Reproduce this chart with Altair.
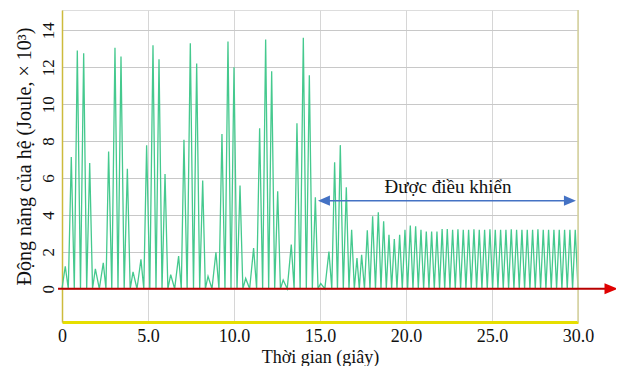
import altair as alt
import pandas as pd

# ---- data ----
peak_t = [0.19, 0.54, 0.89, 1.26, 1.61, 1.94, 2.40, 2.71, 3.08, 3.43, 3.80, 4.13,
          4.59, 4.92, 5.29, 5.64, 5.99, 6.32, 6.78, 7.09, 7.46, 7.83, 8.18, 8.49,
          8.95, 9.30, 9.65, 10.00, 10.35, 10.68, 11.14, 11.49, 11.84, 12.19, 12.54, 12.86,
          13.33, 13.66, 14.03, 14.38, 14.73, 15.04, 15.52, 15.85, 16.18, 16.53, 16.84, 17.15,
          17.42, 17.75, 18.06, 18.39, 18.70, 19.01, 19.32, 19.63, 19.94, 20.25, 20.56, 20.87,
          21.18, 21.49, 21.80, 22.10, 22.40, 22.71, 23.02, 23.33, 23.64, 23.95, 24.26, 24.57,
          24.88, 25.19, 25.50, 25.81, 26.12, 26.43, 26.74, 27.05, 27.36, 27.67, 27.98, 28.29,
          28.60, 28.91, 29.22, 29.53, 29.84]
peak_e = [1.22, 7.14, 12.90, 12.76, 6.81, 1.08, 1.40, 7.44, 13.05, 12.58, 6.50, 0.92,
          1.59, 7.77, 13.19, 12.43, 6.22, 0.77, 1.77, 8.07, 13.30, 12.20, 5.87, 0.68,
          1.98, 8.38, 13.40, 12.00, 5.59, 0.56, 2.20, 8.70, 13.50, 11.78, 5.28, 0.47,
          2.40, 8.97, 13.59, 11.57, 4.95, 0.29, 2.02, 6.85, 7.78, 5.50, 3.20, 1.66,
          1.84, 3.17, 3.93, 4.14, 3.66, 2.92, 2.70, 2.92, 3.20, 3.42, 3.39, 3.20,
          3.10, 3.10, 3.10, 3.24, 3.24, 3.20, 3.22, 3.20, 3.20, 3.22, 3.20, 3.20,
          3.22, 3.20, 3.20, 3.20, 3.22, 3.20, 3.20, 3.20, 3.20, 3.22, 3.20, 3.20,
          3.20, 3.20, 3.20, 3.20, 3.20]

x_ticks = [0, 5, 10, 15, 20, 25, 30]
y_ticks = [0, 2, 4, 6, 8, 10, 12, 14]
x_domain = [0, 30]
y_domain = [-1.8, 15.1]

controlled_start = 15.23
controlled_end = 29.53
controlled_level = 4.77
controlled_label = "Được điều khiển"

x_title = "Thời gian (giây)"
y_title = "Động năng của hệ (Joule, × 10³)"

# ---- build line table: each spike rises from and returns to zero ----
rows = [{"t": 0.0, "e": 0.0}]
for i, (t, e) in enumerate(zip(peak_t, peak_e)):
    rows.append({"t": t, "e": e})
    nxt = (t + peak_t[i + 1]) / 2 if i + 1 < len(peak_t) else 30.0
    rows.append({"t": nxt, "e": 0.0})
df = pd.DataFrame(rows)

FONT = "Liberation Serif"
xs = alt.Scale(domain=x_domain, nice=False, zero=False)
ys = alt.Scale(domain=y_domain, nice=False, zero=False)

x_axis = alt.Axis(values=x_ticks, title=x_title, grid=True, gridColor="#d6d6d6",
                  gridWidth=1, ticks=False, domainColor="#e6df00", domainWidth=3,
                  labelFont=FONT, labelFontSize=18, labelColor="#111",
                  labelPadding=5, labelFlush=False,
                  labelExpr="datum.value == 0 ? '0' : '\u2002\u2009' + format(datum.value, '.1f')",
                  titleFont=FONT, titleFontSize=18, titleFontWeight="normal",
                  titleColor="#111", titlePadding=3)
y_axis = alt.Axis(values=y_ticks, title=y_title, grid=True, gridColor="#c8c8c8",
                  gridWidth=1, ticks=False, domainColor="#cdbb3c", domainWidth=1.5,
                  labelFont=FONT, labelFontSize=17, labelColor="#111", labelAngle=270,
                  labelAlign="center", labelBaseline="alphabetic", labelPadding=9,
                  labelFlush=False,
                  titleFont=FONT, titleFontSize=20, titleFontWeight="normal",
                  titleColor="#111", titleAngle=270, titleAlign="center",
                  titleBaseline="middle", titleX=-38, titleY=146)

energy = alt.Chart(df).mark_line(color="#45c98e", strokeWidth=1.3).encode(
    x=alt.X("t:Q", scale=xs, axis=x_axis),
    y=alt.Y("e:Q", scale=ys, axis=y_axis),
)

right_frame = alt.Chart(pd.DataFrame({"t": [30.0], "a": [y_domain[0]], "b": [y_domain[1]]})).mark_rule(
    color="#d6d29a", strokeWidth=1.5).encode(
    x=alt.X("t:Q", scale=xs), y=alt.Y("a:Q", scale=ys), y2="b:Q")

red_line = alt.Chart(pd.DataFrame({"t": [-0.23, 31.6], "e": [0.0, 0.0]})).mark_line(
    color="#b80000", strokeWidth=2, clip=False).encode(
    x=alt.X("t:Q", scale=xs), y=alt.Y("e:Q", scale=ys))
red_head = alt.Chart(pd.DataFrame({"t": [31.92], "e": [0.0]})).mark_point(
    shape="M 1 0 L -1 -0.85 L -1 0.85 Z", size=170, filled=True, fill="#e00000",
    strokeWidth=0, opacity=1, clip=False).encode(
    x=alt.X("t:Q", scale=xs), y=alt.Y("e:Q", scale=ys))

blue_df = pd.DataFrame({"t": [controlled_start], "t2": [controlled_end], "e": [controlled_level]})
blue_line = alt.Chart(blue_df).mark_rule(color="#4472c4", strokeWidth=1.6).encode(
    x=alt.X("t:Q", scale=xs), x2="t2:Q", y=alt.Y("e:Q", scale=ys))
blue_left = alt.Chart(pd.DataFrame({"t": [controlled_start], "e": [controlled_level]})).mark_point(
    shape="M -1 0 L 1 -0.85 L 1 0.85 Z", size=144, filled=True, fill="#4472c4",
    strokeWidth=0, opacity=1).encode(x=alt.X("t:Q", scale=xs), y=alt.Y("e:Q", scale=ys))
blue_right = alt.Chart(pd.DataFrame({"t": [controlled_end], "e": [controlled_level]})).mark_point(
    shape="M 1 0 L -1 -0.85 L -1 0.85 Z", size=144, filled=True, fill="#4472c4",
    strokeWidth=0, opacity=1).encode(x=alt.X("t:Q", scale=xs), y=alt.Y("e:Q", scale=ys))
label = alt.Chart(pd.DataFrame({"t": [22.44], "e": [5.2], "txt": [controlled_label]})).mark_text(
    font=FONT, fontSize=19, color="#111", baseline="alphabetic", align="center").encode(
    x=alt.X("t:Q", scale=xs), y=alt.Y("e:Q", scale=ys), text="txt:N")

chart = alt.layer(energy, right_frame, red_line, red_head, blue_line, blue_left,
                  blue_right, label).properties(
    width=516, height=312,
    padding={"left": 54, "top": 2, "right": 38, "bottom": 44},
    autosize=alt.AutoSizeParams(type="none"),
).configure_view(stroke=None).configure(background="white")

chart.save("out.html", embed_options={"renderer": "svg", "actions": False})
